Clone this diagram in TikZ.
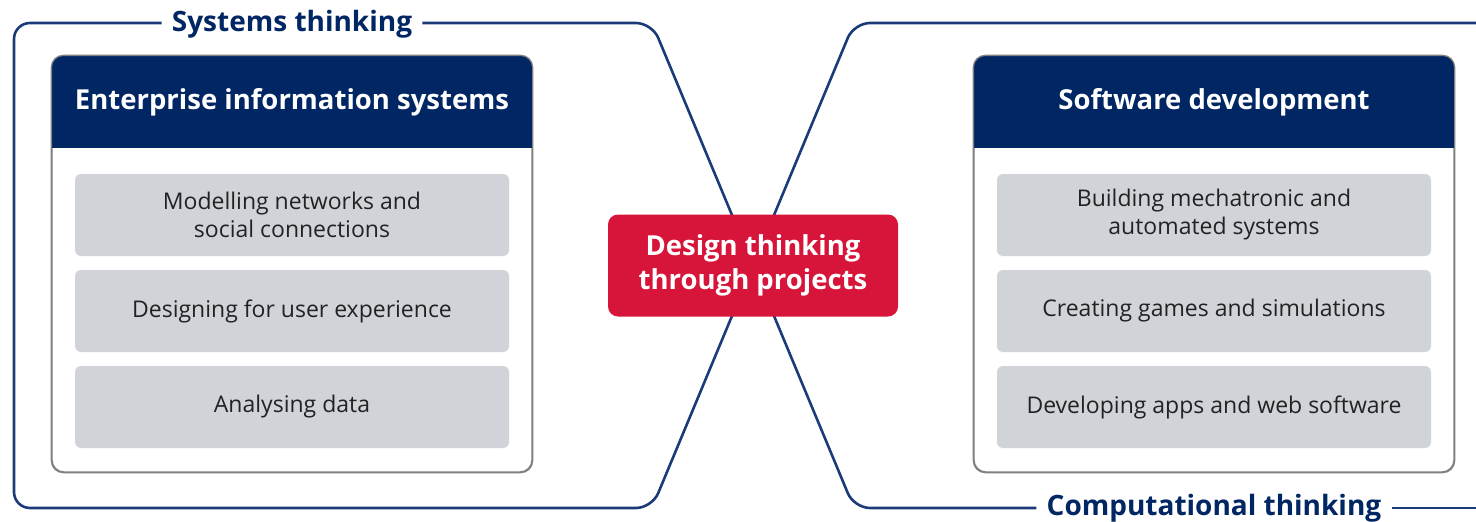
\documentclass[tikz,border=0pt]{standalone}
\usepackage{fontspec}
\setmainfont{Open Sans}
\usetikzlibrary{positioning}
\definecolor{navy}{HTML}{002664}
\definecolor{linenavy}{HTML}{1B3A78}
\definecolor{nswred}{HTML}{D7153A}
\definecolor{itemgrey}{HTML}{D0D4D9}
\definecolor{panelgrey}{HTML}{808080}
\definecolor{itemtext}{HTML}{222222}
\begin{document}
\begin{tikzpicture}[
  x=1pt, y=-1pt,
  node distance=96pt,
  frame/.style={draw=linenavy, line width=2.6pt, rounded corners=16pt},
  panel/.style={draw=panelgrey, line width=1.3pt, rounded corners=12pt, fill=white, minimum width=480pt, minimum height=416pt},
  header/.style={fill=navy, text=white, font=\fontsize{27.5}{30}\selectfont\bfseries, minimum width=480pt, minimum height=92pt},
  item/.style={fill=itemgrey, rounded corners=6pt, minimum width=434pt, minimum height=82pt, align=center, text=itemtext, font=\fontsize{23}{28}\selectfont},
  hub/.style={fill=nswred, text=white, rounded corners=10pt, minimum width=290pt, minimum height=102pt, align=center, font=\fontsize{27.5}{34}\selectfont\bfseries},
  theme/.style={fill=white, text=navy, inner xsep=10pt, font=\fontsize{28}{30}\selectfont\bfseries}
]
\useasboundingbox (0,0) rectangle (1476,522);

% Hub position first, frames meet behind it
\coordinate (cross) at (753,265.5);

% Theme labels on the frames
\node[theme] (sys_label) at (292,24) {Systems thinking};
\node[theme] (comp_label) at (1214,508) {Computational thinking};

% Frames
\draw[frame] (sys_label.west |- 0,23) -- (14,23) -- (14,508) -- (652,508) -- (cross) -- (652,23) -- (sys_label.east |- 0,23);
\draw[frame] (1476,23) -- (854,23) -- (cross) -- (854,508) -- (comp_label.west |- 0,508);
\draw[frame] (comp_label.east |- 0,508) -- (1476,508);

% Left panel
\node[panel] (eis_panel) at (292,264) {};
\begin{scope}
  \clip[rounded corners=12pt] (eis_panel.north west) rectangle (eis_panel.south east);
  \node[header] (eis_head) at (292,102) {Enterprise information systems};
\end{scope}
\draw[draw=panelgrey, line width=1.3pt, rounded corners=12pt] (eis_panel.north west) rectangle (eis_panel.south east);
\node[item, below of=eis_head, node distance=113pt] (eis_a) {Modelling networks and\\social connections};
\node[item, below of=eis_a] (eis_b) {Designing for user experience};
\node[item, below of=eis_b] (eis_c) {Analysing data};

% Right panel
\node[panel] (sw_panel) at (1214,264) {};
\begin{scope}
  \clip[rounded corners=12pt] (sw_panel.north west) rectangle (sw_panel.south east);
  \node[header] (sw_head) at (1214,102) {Software development};
\end{scope}
\draw[draw=panelgrey, line width=1.3pt, rounded corners=12pt] (sw_panel.north west) rectangle (sw_panel.south east);
\node[item, below of=sw_head, node distance=113pt] (sw_a) {Building mechatronic and\\automated systems};
\node[item, below of=sw_a] (sw_b) {Creating games and simulations};
\node[item, below of=sw_b] (sw_c) {Developing apps and web software};

% Centre
\node[hub] (hub) at (cross) {Design thinking\\through projects};

\end{tikzpicture}
\end{document}
